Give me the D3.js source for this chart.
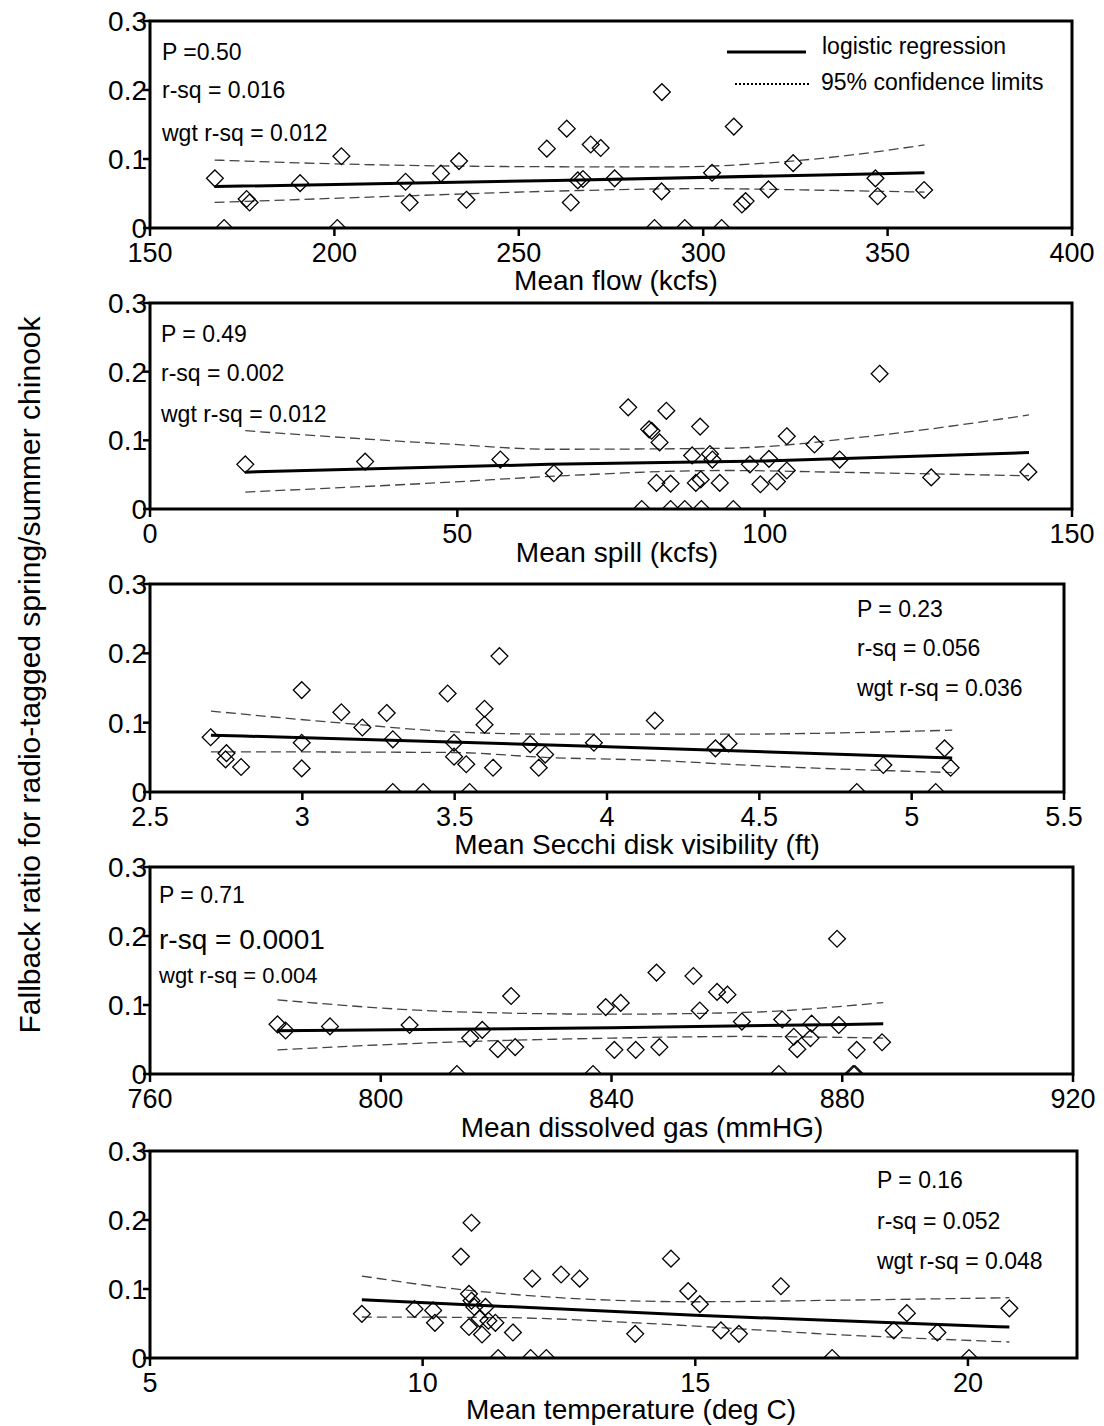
<!DOCTYPE html>
<html>
<head>
<meta charset="utf-8">
<script src="https://cdn.jsdelivr.net/npm/d3@7"></script>
<style>
  body { margin: 0; background: #fff; }
  svg text { font-family: "Liberation Sans", Arial, sans-serif; fill: #000; }
</style>
</head>
<body>
<svg id="chart" width="1104" height="1426"></svg>
<script>
// ---- data ----
// mean flow (kcfs) vs fallback ratio
var flowPts = [[167.6,0.072],[170.1,0],[176.2,0.042],[177.0,0.037],[190.7,0.065],[200.8,0],[201.9,0.104],
  [219.3,0.067],[220.4,0.037],[228.9,0.079],[233.8,0.097],[235.8,0.041],[257.6,0.115],[263.0,0.144],
  [264.1,0.037],[266.0,0.069],[267.4,0.071],[269.5,0.121],[272.2,0.116],[276.0,0.072],[286.8,0],
  [288.7,0.053],[288.8,0.197],[295.0,0],[302.4,0.080],[305.0,0],[308.3,0.147],[310.5,0.034],[311.5,0.039],
  [317.7,0.056],[324.4,0.094],[346.7,0.072],[347.3,0.046],[359.9,0.055]];
var flowFit = [[167.5,0.060],[260,0.069],[360,0.080]];
var flowUpper = [[167.5,0.0985],[200,0.093],[250,0.089],[290,0.0885],[324,0.097],[345,0.109],[360,0.1205]];
var flowLower = [[167.5,0.037],[222,0.047],[260,0.0535],[300,0.057],[335,0.0545],[360,0.052]];
var flowTicks = [150,200,250,300,350,400];

// mean spill (kcfs)
var spillPts = [[15.5,0.065],[35.0,0.069],[57.0,0.072],[65.7,0.052],[77.8,0.148],[80.0,0],[81.2,0.116],
  [81.6,0.114],[82.4,0.038],[82.9,0.097],[84.0,0.143],[84.7,0.037],[84.7,0],[87.0,0],[88.2,0.078],
  [88.8,0.038],[89.5,0.120],[89.6,0.043],[89.7,0],[91.1,0.080],[91.5,0.072],[92.7,0.038],[94.9,0],
  [97.6,0.065],[99.3,0.036],[100.7,0.073],[102.0,0.040],[103.6,0.056],[103.6,0.106],[108.1,0.094],
  [112.2,0.072],[118.7,0.197],[127.1,0.046],[142.9,0.054]];
var spillFit = [[15.5,0.0537],[64.9,0.065],[100,0.070],[143,0.0822]];
var spillUpper = [[15.5,0.114],[49,0.0943],[65,0.087],[93.7,0.0885],[116.7,0.1055],[143,0.137]];
var spillLower = [[15.5,0.0247],[49,0.0392],[65,0.0474],[93.7,0.0561],[111,0.0537],[143,0.0484]];
var spillTicks = [0,50,100,150];

// mean Secchi disk visibility (ft)
var secchiPts = [[2.699,0.079],[2.751,0.056],[2.748,0.047],[2.799,0.036],[2.998,0.147],[2.998,0.071],
  [2.998,0.034],[3.128,0.115],[3.197,0.093],[3.277,0.114],[3.297,0.076],[3.297,0],[3.397,0],[3.477,0.142],
  [3.498,0.071],[3.498,0.051],[3.538,0.040],[3.549,0],[3.598,0.120],[3.598,0.097],[3.626,0.035],
  [3.647,0.196],[3.748,0.069],[3.776,0.035],[3.797,0.054],[3.957,0.071],[4.157,0.103],[4.356,0.063],
  [4.399,0.070],[4.82,0],[4.907,0.039],[5.079,0],[5.108,0.063],[5.128,0.035]];
var secchiFit = [[2.7,0.082],[3.95,0.066],[5.133,0.049]];
var secchiUpper = [[2.7,0.1167],[3.14,0.099],[3.49,0.087],[3.81,0.0834],[4.39,0.0834],[5.133,0.0892]];
var secchiLower = [[2.7,0.058],[3.49,0.057],[3.81,0.0497],[4.14,0.0458],[4.507,0.0376],[5.133,0.028]];
var secchiTicks = [2.5,3,3.5,4,4.5,5,5.5];

// mean dissolved gas (mmHG)
var gasPts = [[782.1,0.072],[783.5,0.063],[791.2,0.069],[805.0,0.071],[813.2,0],[815.5,0.052],[817.6,0.064],
  [820.3,0.036],[822.6,0.113],[823.3,0.039],[836.8,0],[839.0,0.097],[840.5,0.035],[841.6,0.103],
  [844.2,0.035],[847.8,0.147],[848.3,0.039],[854.2,0.142],[855.3,0.092],[858.3,0.119],[860.1,0.115],
  [862.6,0.076],[869.0,0],[869.6,0.079],[871.6,0.054],[872.2,0.036],[874.5,0.052],[874.7,0.073],
  [879.1,0.196],[879.4,0.071],[881.9,0],[882.2,0],[882.5,0.035],[886.9,0.046]];
var gasFit = [[782.1,0.0626],[840,0.067],[887.1,0.0727]];
var gasUpper = [[782.1,0.1074],[812,0.0905],[840,0.0867],[862.6,0.0891],[887.1,0.1035]];
var gasLower = [[782.1,0.0351],[812,0.0462],[840,0.052],[862.6,0.0544],[887.1,0.052]];
var gasTicks = [760,800,840,880,920];

// mean temperature (deg C)
var tempPts = [[8.885,0.064],[9.852,0.071],[10.193,0.069],[10.226,0.051],[10.702,0.147],[10.896,0.196],
  [10.85,0.093],[10.896,0.083],[10.947,0.074],[10.85,0.045],[11.089,0.034],[11.153,0.074],[11.044,0.057],
  [11.205,0.054],[11.334,0.051],[11.385,0],[11.656,0.037],[12.01,0.115],[11.98,0],[12.268,0],
  [12.539,0.121],[12.88,0.115],[13.898,0.035],[14.554,0.144],[14.87,0.097],[15.084,0.078],[15.47,0.040],
  [15.8,0.035],[16.57,0.104],[17.51,0],[18.64,0.040],[18.88,0.065],[19.44,0.037],[20.02,0],[20.76,0.072]];
var tempFit = [[8.885,0.0845],[15,0.0618],[20.76,0.0449]];
var tempUpper = [[8.885,0.1188],[10.85,0.098],[15,0.0815],[17.5,0.0836],[20.76,0.0874]];
var tempLower = [[8.885,0.0594],[11.5,0.0585],[14.19,0.0498],[17.5,0.0343],[20.76,0.0232]];
var tempTicks = [5,10,15,20];

var yTicks = [0,0.1,0.2,0.3];
var yTickLabels = ["0","0.1","0.2","0.3"];

var panels = [
  { pts: flowPts, fit: flowFit, up: flowUpper, lo: flowLower, ticks: flowTicks, domain: [150,400],
    left: 150, right: 1072, top: 21, bottom: 228, title: "Mean flow (kcfs)", titleX: 616, titleDy: 62,
    stats: [["P =0.50",23],["r-sq = 0.016",23],["wgt r-sq = 0.012",23]], statX: 162, statY: [60,98,141], legend: true },
  { pts: spillPts, fit: spillFit, up: spillUpper, lo: spillLower, ticks: spillTicks, domain: [0,150],
    left: 150, right: 1072, top: 303, bottom: 509, title: "Mean spill (kcfs)", titleX: 617, titleDy: 53,
    stats: [["P = 0.49",23],["r-sq = 0.002",23],["wgt r-sq = 0.012",23]], statX: 161, statY: [342,381,422] },
  { pts: secchiPts, fit: secchiFit, up: secchiUpper, lo: secchiLower, ticks: secchiTicks, domain: [2.5,5.5],
    left: 150, right: 1064, top: 584, bottom: 792, title: "Mean Secchi disk visibility (ft)", titleX: 637, titleDy: 62,
    stats: [["P = 0.23",23],["r-sq = 0.056",23],["wgt r-sq = 0.036",23]], statX: 857, statY: [617,656,696] },
  { pts: gasPts, fit: gasFit, up: gasUpper, lo: gasLower, ticks: gasTicks, domain: [760,920],
    left: 150, right: 1073, top: 867, bottom: 1074, title: "Mean dissolved gas (mmHG)", titleX: 642, titleDy: 63,
    stats: [["P = 0.71",23],["r-sq = 0.0001",28],["wgt r-sq = 0.004",22]], statX: 159, statY: [903,949,983] },
  { pts: tempPts, fit: tempFit, up: tempUpper, lo: tempLower, ticks: tempTicks, domain: [5,22],
    left: 150, right: 1077, top: 1151, bottom: 1358, title: "Mean temperature  (deg C)", titleX: 631, titleDy: 61,
    stats: [["P = 0.16",23],["r-sq = 0.052",23],["wgt r-sq = 0.048",23]], statX: 877, statY: [1188,1229,1269] }
];

var svg = d3.select("#chart");
svg.append("rect").attr("width", 1104).attr("height", 1426).attr("fill", "#fff");

var diamond = d3.symbol().type(d3.symbolDiamond2).size(180);

panels.forEach(function(p, i) {
  var x = d3.scaleLinear().domain(p.domain).range([p.left, p.right]);
  var y = d3.scaleLinear().domain([0, 0.3]).range([p.bottom, p.top]);

  var clipId = "clip" + i;
  svg.append("clipPath").attr("id", clipId)
    .append("rect")
      .attr("x", p.left).attr("y", p.top)
      .attr("width", p.right - p.left).attr("height", p.bottom - p.top);

  var g = svg.append("g").attr("clip-path", "url(#" + clipId + ")");

  var line = d3.line()
    .x(function(d) { return x(d[0]); })
    .y(function(d) { return y(d[1]); })
    .curve(d3.curveMonotoneX);

  // confidence limits
  [p.up, p.lo].forEach(function(ci) {
    g.append("path").datum(ci)
      .attr("d", line)
      .attr("fill", "none")
      .attr("stroke", "#444")
      .attr("stroke-width", 1.3)
      .attr("stroke-dasharray", "10,5");
  });

  // fitted logistic curve
  g.append("path").datum(p.fit)
    .attr("d", line)
    .attr("fill", "none")
    .attr("stroke", "#000")
    .attr("stroke-width", 3);

  g.selectAll(".dot")
    .data(p.pts)
    .enter().append("path")
      .attr("class", "dot")
      .attr("d", diamond)
      .attr("transform", function(d) { return "translate(" + x(d[0]) + "," + y(d[1]) + ")"; })
      .attr("fill", "none")
      .attr("stroke", "#000")
      .attr("stroke-width", 1.3);

  // frame
  svg.append("rect")
    .attr("x", p.left).attr("y", p.top)
    .attr("width", p.right - p.left).attr("height", p.bottom - p.top)
    .attr("fill", "none").attr("stroke", "#000").attr("stroke-width", 3);

  // x ticks
  var xAxis = svg.append("g");
  xAxis.selectAll("line").data(p.ticks).enter().append("line")
    .attr("x1", x).attr("x2", x)
    .attr("y1", p.bottom).attr("y2", p.bottom + 8)
    .attr("stroke", "#000").attr("stroke-width", 2.5);
  xAxis.selectAll("text").data(p.ticks).enter().append("text")
    .attr("x", x).attr("y", p.bottom + 34)
    .attr("text-anchor", "middle")
    .style("font-size", "27px")
    .text(function(d) { return d; });

  // y ticks
  var yAxis = svg.append("g");
  yAxis.selectAll("line").data(yTicks).enter().append("line")
    .attr("x1", p.left - 7).attr("x2", p.left)
    .attr("y1", y).attr("y2", y)
    .attr("stroke", "#000").attr("stroke-width", 2.5);
  yAxis.selectAll("text").data(yTicks).enter().append("text")
    .attr("x", p.left - 3).attr("y", function(d) { return y(d) + 10; })
    .attr("text-anchor", "end")
    .style("font-size", "28px")
    .text(function(d, k) { return yTickLabels[k]; });

  svg.append("text")
    .attr("x", p.titleX).attr("y", p.bottom + p.titleDy)
    .attr("text-anchor", "middle")
    .style("font-size", "28px")
    .text(p.title);

  p.stats.forEach(function(s, k) {
    svg.append("text")
      .attr("x", p.statX).attr("y", p.statY[k])
      .style("font-size", s[1] + "px")
      .text(s[0]);
  });

  if (p.legend) {
    svg.append("line").attr("x1", 727).attr("x2", 806).attr("y1", 52).attr("y2", 52)
      .attr("stroke", "#000").attr("stroke-width", 3);
    svg.append("text").attr("x", 822).attr("y", 54).style("font-size", "23px").text("logistic regression");
    svg.append("line").attr("x1", 735).attr("x2", 810).attr("y1", 84).attr("y2", 84)
      .attr("stroke", "#000").attr("stroke-width", 2).attr("stroke-dasharray", "2,2");
    svg.append("text").attr("x", 821).attr("y", 90).style("font-size", "23px").text("95% confidence limits");
  }
});

svg.append("text")
  .attr("transform", "translate(40,675) rotate(-90)")
  .attr("text-anchor", "middle")
  .style("font-size", "30px")
  .text("Fallback ratio for radio-tagged spring/summer chinook");
</script>
</body>
</html>
